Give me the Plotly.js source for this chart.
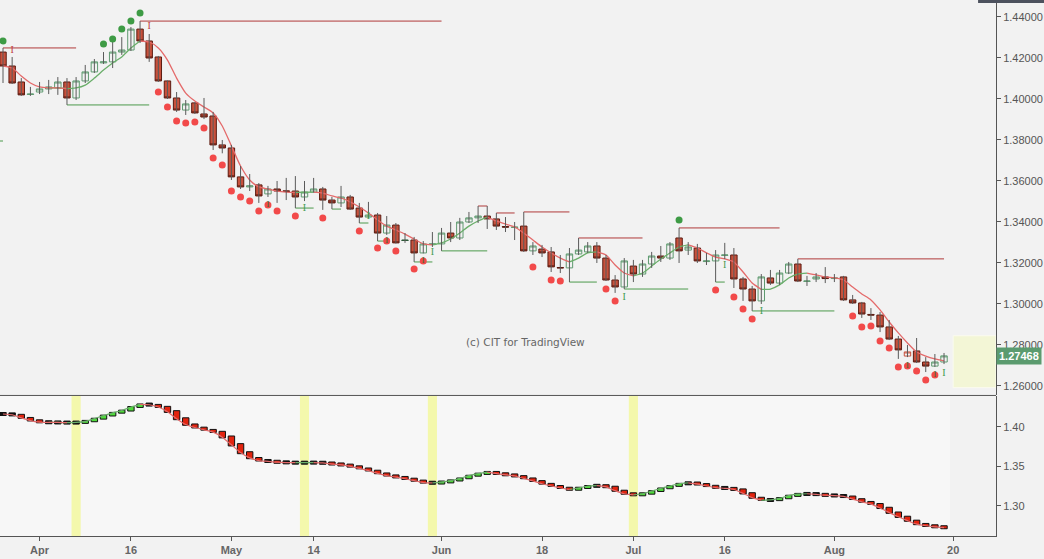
<!DOCTYPE html>
<html><head><meta charset="utf-8">
<script src="https://cdn.plot.ly/plotly-3.0.1.min.js"></script>
<style>html,body{margin:0;padding:0;background:#f2f2f2;}#chart{width:1044px;height:559px;}</style>
</head><body><div id="chart"></div>
<script>
// ---------- DATA ----------
const dates = [
'2018-03-27','2018-03-28','2018-03-29','2018-03-30',
'2018-04-02','2018-04-03','2018-04-04','2018-04-05','2018-04-06',
'2018-04-09','2018-04-10','2018-04-11','2018-04-12','2018-04-13',
'2018-04-16','2018-04-17','2018-04-18','2018-04-19','2018-04-20',
'2018-04-23','2018-04-24','2018-04-25','2018-04-26','2018-04-27',
'2018-04-30','2018-05-01','2018-05-02','2018-05-03','2018-05-04',
'2018-05-07','2018-05-08','2018-05-09','2018-05-10','2018-05-11',
'2018-05-14','2018-05-15','2018-05-16','2018-05-17','2018-05-18',
'2018-05-21','2018-05-22','2018-05-23','2018-05-24','2018-05-25',
'2018-05-28','2018-05-29','2018-05-30','2018-05-31','2018-06-01',
'2018-06-04','2018-06-05','2018-06-06','2018-06-07','2018-06-08',
'2018-06-11','2018-06-12','2018-06-13','2018-06-14','2018-06-15',
'2018-06-18','2018-06-19','2018-06-20','2018-06-21','2018-06-22',
'2018-06-25','2018-06-26','2018-06-27','2018-06-28','2018-06-29',
'2018-07-02','2018-07-03','2018-07-04','2018-07-05','2018-07-06',
'2018-07-09','2018-07-10','2018-07-11','2018-07-12','2018-07-13',
'2018-07-16','2018-07-17','2018-07-18','2018-07-19','2018-07-20',
'2018-07-23','2018-07-24','2018-07-25','2018-07-26','2018-07-27',
'2018-07-30','2018-07-31','2018-08-01','2018-08-02','2018-08-03',
'2018-08-06','2018-08-07','2018-08-08','2018-08-09','2018-08-10',
'2018-08-13','2018-08-14','2018-08-15','2018-08-16','2018-08-17'];

const openPrices = [
1.4229,1.4161,1.4083,1.4022,
1.4034,1.4049,1.4054,1.4083,1.4005,
1.4088,1.4132,1.4176,1.4181,1.4229,
1.4239,1.4341,1.4283,1.4205,1.4088,
1.4005,1.3946,1.3981,1.3927,1.3917,
1.3776,1.3761,1.3620,1.3571,1.3581,
1.3537,1.3561,1.3552,1.3551,1.3522,
1.3546,1.3561,1.3507,1.3493,1.3522,
1.3468,1.3424,1.3434,1.3346,1.3385,
1.3312,1.3312,1.3249,1.3290,1.3293,
1.3346,1.3322,1.3400,1.3420,1.3429,
1.3415,1.3378,1.3373,1.3380,1.3259,
1.3268,1.3254,1.3178,1.3176,1.3244,
1.3254,1.3283,1.3224,1.3117,1.3083,
1.3185,1.3146,1.3195,1.3234,1.3224,
1.3322,1.3263,1.3273,1.3207,1.3210,
1.3237,1.3239,1.3122,1.3073,1.3015,
1.3127,1.3102,1.3151,1.3195,1.3110,
1.3122,1.3132,1.3124,1.3132,1.3020,
1.3005,1.2949,1.2946,1.2888,1.2829,
1.2746,1.2771,1.2717,1.2697,1.2717];

const highPrices = [
1.4249,1.4205,1.4102,1.4059,
1.4083,1.4093,1.4107,1.4102,1.4107,
1.4166,1.4195,1.4229,1.4302,1.4302,
1.4351,1.4380,1.4317,1.4210,1.4090,
1.4034,1.3995,1.3983,1.4005,1.3937,
1.3800,1.3776,1.3673,1.3634,1.3590,
1.3576,1.3600,1.3615,1.3624,1.3600,
1.3615,1.3571,1.3522,1.3576,1.3532,
1.3493,1.3498,1.3444,1.3429,1.3395,
1.3346,1.3327,1.3307,1.3351,1.3371,
1.3400,1.3420,1.3449,1.3478,1.3478,
1.3444,1.3424,1.3400,1.3449,1.3302,
1.3288,1.3278,1.3239,1.3273,1.3322,
1.3302,1.3302,1.3239,1.3141,1.3224,
1.3215,1.3215,1.3254,1.3283,1.3302,
1.3371,1.3302,1.3293,1.3249,1.3263,
1.3298,1.3273,1.3132,1.3088,1.3146,
1.3166,1.3166,1.3205,1.3220,1.3137,
1.3151,1.3180,1.3146,1.3137,1.3044,
1.3010,1.2980,1.2961,1.2922,1.2844,
1.2800,1.2834,1.2741,1.2756,1.2761];

const lowPrices = [
1.4078,1.4073,1.4015,1.4015,
1.4024,1.4024,1.4020,1.3971,1.3995,
1.4078,1.4127,1.4171,1.4151,1.4215,
1.4234,1.4273,1.4181,1.4083,1.4000,
1.3937,1.3922,1.3927,1.3902,1.3751,
1.3735,1.3605,1.3561,1.3551,1.3493,
1.3522,1.3493,1.3507,1.3468,1.3502,
1.3544,1.3459,1.3463,1.3473,1.3459,
1.3395,1.3419,1.3307,1.3337,1.3295,
1.3298,1.3205,1.3247,1.3278,1.3259,
1.3302,1.3312,1.3395,1.3395,1.3366,
1.3361,1.3351,1.3312,1.3254,1.3239,
1.3229,1.3156,1.3151,1.3107,1.3239,
1.3249,1.3200,1.3112,1.3054,1.3073,
1.3107,1.3132,1.3176,1.3205,1.3215,
1.3200,1.3239,1.3200,1.3190,1.3107,
1.3219,1.3078,1.3015,1.2966,1.3000,
1.3093,1.3093,1.3146,1.3107,1.3088,
1.3107,1.3102,1.3107,1.3015,1.3000,
1.2932,1.2922,1.2863,1.2824,1.2732,
1.2741,1.2712,1.2668,1.2693,1.2707];

const closePrices = [
1.4161,1.4078,1.4020,1.4024,
1.4049,1.4059,1.4083,1.4005,1.4088,
1.4132,1.4181,1.4181,1.4229,1.4239,
1.4341,1.4283,1.4200,1.4088,1.4005,
1.3946,1.3976,1.3932,1.3912,1.3776,
1.3761,1.3620,1.3571,1.3576,1.3527,
1.3561,1.3551,1.3549,1.3522,1.3546,
1.3561,1.3507,1.3493,1.3522,1.3463,
1.3424,1.3434,1.3346,1.3385,1.3298,
1.3310,1.3249,1.3293,1.3293,1.3346,
1.3322,1.3400,1.3420,1.3429,1.3415,
1.3380,1.3375,1.3375,1.3259,1.3283,
1.3249,1.3181,1.3176,1.3244,1.3263,
1.3283,1.3224,1.3117,1.3083,1.3210,
1.3146,1.3195,1.3234,1.3224,1.3293,
1.3259,1.3278,1.3210,1.3210,1.3239,
1.3239,1.3122,1.3073,1.3015,1.3132,
1.3102,1.3151,1.3195,1.3112,1.3112,
1.3132,1.3124,1.3127,1.3020,1.3005,
1.2951,1.2946,1.2888,1.2829,1.2776,
1.2766,1.2717,1.2697,1.2717,1.27468];

const maValues = [
1.4161,1.4151,1.4112,1.4078,
1.4059,1.4054,1.4054,1.4051,1.4054,
1.4068,1.4102,1.4141,1.4176,1.4205,
1.4249,1.4283,1.4278,1.4249,1.4190,
1.4102,1.4029,1.3990,1.3961,1.3932,
1.3868,1.3771,1.3673,1.3605,1.3571,
1.3561,1.3551,1.3546,1.3544,1.3545,
1.3546,1.3541,1.3527,1.3517,1.3498,
1.3473,1.3444,1.3410,1.3380,1.3361,
1.3341,1.3317,1.3293,1.3288,1.3298,
1.3317,1.3346,1.3380,1.3405,1.3424,
1.3405,1.3390,1.3376,1.3346,1.3312,
1.3278,1.3249,1.3224,1.3205,1.3224,
1.3249,1.3254,1.3239,1.3190,1.3151,
1.3137,1.3151,1.3185,1.3219,1.3249,
1.3278,1.3288,1.3273,1.3249,1.3229,
1.3220,1.3205,1.3156,1.3102,1.3071,
1.3073,1.3093,1.3127,1.3146,1.3151,
1.3142,1.3132,1.3127,1.3117,1.3083,
1.3049,1.3020,1.2971,1.2912,1.2859,
1.2810,1.2766,1.2746,1.2732,1.2722];

const tickDates  = ['2018-04-02','2018-04-16','2018-05-01','2018-05-14','2018-06-01','2018-06-18','2018-07-02','2018-07-16','2018-08-01','2018-08-20'];
const tickLabels = ['Apr','16','May','14','Jun','18','Jul','16','Aug','20'];

const upperDotDates  = ['2018-03-27','2018-04-11','2018-04-12','2018-04-13','2018-04-16','2018-04-17','2018-07-09'];
const upperDotValues = [1.4283,1.4268,1.4293,1.4341,1.4380,1.4420,1.3410];

const lowerDotDates = ['2018-04-19','2018-04-20','2018-04-23','2018-04-24','2018-04-25','2018-04-26','2018-04-27','2018-04-30',
 '2018-05-01','2018-05-02','2018-05-03','2018-05-04','2018-05-07','2018-05-08','2018-05-10','2018-05-15','2018-05-21',
 '2018-05-23','2018-05-24','2018-05-25','2018-05-29','2018-05-30','2018-06-15','2018-06-19','2018-06-20','2018-06-27',
 '2018-06-28','2018-07-13','2018-07-17','2018-07-18','2018-07-19','2018-08-03','2018-08-06','2018-08-07','2018-08-08',
 '2018-08-09','2018-08-10','2018-08-13','2018-08-14','2018-08-15','2018-08-16'];
const lowerDotValues = [1.4034,1.3961,1.3893,1.3883,1.3888,1.3859,1.3712,1.3678,
 1.3551,1.3522,1.3502,1.3454,1.3483,1.3454,1.3429,1.3419,1.3356,
 1.3273,1.3307,1.3259,1.3171,1.3210,1.3181,1.3117,1.3112,1.3073,
 1.3015,1.3068,1.3034,1.2976,1.2927,1.2941,1.2888,1.2893,1.2820,
 1.2785,1.2693,1.2698,1.2673,1.2629,1.2654];
const markedDotDates = ['2018-05-07','2018-05-24','2018-05-30','2018-08-13','2018-08-16'];

const resistanceStart = ['2018-03-27','2018-04-17','2018-06-07','2018-06-11','2018-06-14','2018-06-22','2018-07-09','2018-07-26'];
const resistanceEnd   = ['2018-04-06','2018-06-01','2018-06-08','2018-06-13','2018-06-21','2018-07-03','2018-07-24','2018-08-17'];
const resistanceLevel = [1.4249,1.4380,1.3478,1.3444,1.3449,1.3322,1.3371,1.3220];

const supportStart = ['2018-03-26','2018-04-05','2018-05-10','2018-05-16','2018-05-21','2018-05-23','2018-05-29','2018-06-01','2018-06-21','2018-06-29','2018-07-13','2018-07-19'];
const supportEnd   = ['2018-03-27','2018-04-18','2018-05-14','2018-05-17','2018-05-22','2018-05-24','2018-05-31','2018-06-08','2018-06-26','2018-07-10','2018-07-16','2018-08-01'];
const supportLevel = [1.3795,1.3971,1.3468,1.3463,1.3395,1.3307,1.3205,1.3259,1.3107,1.3073,1.3107,1.2966];

const arrowUpDates  = ['2018-05-11','2018-05-22','2018-05-31','2018-06-29','2018-07-16','2018-07-20','2018-08-17'];
const arrowUpValues = [1.3468,1.3429,1.3249,1.3034,1.3190,1.2961,1.2663];
const arrowDownDates  = ['2018-03-28','2018-04-18'];
const arrowDownValues = [1.4239,1.4356];

const highlightDates = ['2018-04-06','2018-05-11','2018-05-31','2018-07-02'];
const projectionBox = [1.2592, 1.2845];
const lastPrice = 1.27468;

// ---------- HELPERS ----------
function tIdx(d){
  const i = dates.indexOf(d); if(i >= 0) return i;
  const ref = d > dates[dates.length-1] ? dates.length-1 : 0;
  const a = new Date(dates[ref]+'T00:00:00Z'), b = new Date(d+'T00:00:00Z');
  const step = b > a ? 1 : -1; let n = ref;
  while(a.getTime() !== b.getTime()){
    a.setUTCDate(a.getUTCDate()+step);
    const w = a.getUTCDay(); if(w !== 0 && w !== 6) n += step;
  }
  return n;
}
const xIdx = dates.map((d,i)=>i);
const X_MIN = -0.33, X_MAX = 108.69;

function splitDir(vals){
  const up = vals.map(()=>null), dn = vals.map(()=>null);
  for(let i=1;i<vals.length;i++){
    if(vals[i] >= vals[i-1]){ up[i-1]=vals[i-1]; up[i]=vals[i]; }
    else { dn[i-1]=vals[i-1]; dn[i]=vals[i]; }
  }
  return [up, dn];
}
const [maUp, maDn] = splitDir(maValues);

function segTrace(starts, ends, levels, color, yaxis){
  const xs=[], ys=[];
  starts.forEach((s,k)=>{ xs.push(tIdx(s), tIdx(ends[k]), null); ys.push(levels[k], levels[k], null); });
  return {type:'scatter', mode:'lines', x:xs, y:ys, yaxis:yaxis||'y', line:{color:color, width:1}, hoverinfo:'skip'};
}

// wicks
const wx=[], wy=[];
xIdx.forEach(i=>{ wx.push(i,i,null); wy.push(lowPrices[i], highPrices[i], null); });

// candle classes (hollow-candle style)
const groups = {upUp:[], dnDn:[], upDn:[], dnUp:[]};
xIdx.forEach(i=>{
  const prev = i>0 ? closePrices[i-1] : openPrices[i];
  const up = closePrices[i] >= openPrices[i];
  const hi = closePrices[i] >= prev;
  groups[(up?'up':'dn') + (hi?'Up':'Dn')].push(i);
});
const groupStyle = {
  upUp:{fill:'#f2f2f2', line:'#5f9a70'},
  dnDn:{fill:'#c8513c', line:'#5c1c12'},
  upDn:{fill:'#f2f2f2', line:'#c8513c'},
  dnUp:{fill:'#2f6b45', line:'#2f5a3a'}
};
function candleTrace(key){
  const ids = groups[key], st = groupStyle[key];
  const o = ids.map(i=>openPrices[i]), c = ids.map(i=>closePrices[i]);
  const side = {line:{color:st.line, width:1}, fillcolor:st.fill};
  return {type:'candlestick', x:ids, open:o, close:c,
    high:ids.map((i,k)=>Math.max(o[k],c[k])), low:ids.map((i,k)=>Math.min(o[k],c[k])),
    increasing:side, decreasing:side, whiskerwidth:0, hoverinfo:'skip', xaxis:'x', yaxis:'y'};
}

// bottom boxes
const boxBase=[], boxH=[], boxCol=[];
const MIN_H = 0.0038, BOX_SCALE = 1.3;
maValues.forEach((v,i)=>{
  const p = i>0 ? maValues[i-1] : v;
  const d = v - p, h = Math.abs(d);
  const hh = Math.max(h*BOX_SCALE, MIN_H);
  boxBase.push((v+p)/2 - hh/2); boxH.push(hh);
  boxCol.push(d > 0.0010 ? '#4fdc3a' : (d < -0.0010 ? '#e2240f' : '#111111'));
});

const markedVals = markedDotDates.map(d=>lowerDotValues[lowerDotDates.indexOf(d)]);

// ---------- TRACES ----------
const traces = [
  {type:'scatter', mode:'lines', x:xIdx, y:maUp, line:{color:'#6aae6a', width:1.3, shape:'spline', smoothing:0.6}, connectgaps:false, hoverinfo:'skip'},
  {type:'scatter', mode:'lines', x:xIdx, y:maDn, line:{color:'#e46a6a', width:1.3, shape:'spline', smoothing:0.6}, connectgaps:false, hoverinfo:'skip'},
  segTrace(resistanceStart, resistanceEnd, resistanceLevel, '#b03a3a'),
  segTrace(supportStart, supportEnd, supportLevel, '#4c9a4c'),
  {type:'scatter', mode:'lines', x:wx, y:wy, line:{color:'#5a5a5a', width:1}, hoverinfo:'skip'},
  candleTrace('upUp'), candleTrace('dnDn'), candleTrace('upDn'), candleTrace('dnUp'),
  {type:'scatter', mode:'markers', x:upperDotDates.map(tIdx), y:upperDotValues, marker:{color:'#3e9b45', size:7}, hoverinfo:'skip'},
  {type:'scatter', mode:'markers', x:lowerDotDates.map(tIdx), y:lowerDotValues, marker:{color:'#f24a4a', size:7}, hoverinfo:'skip'},
  {type:'scatter', mode:'text', x:markedDotDates.map(tIdx), y:markedVals, text:markedDotDates.map(()=>'I'), textfont:{family:'Liberation Serif', size:9, color:'#3f6a2f'}, hoverinfo:'skip'},
  {type:'scatter', mode:'text', x:arrowUpDates.map(tIdx), y:arrowUpValues, text:arrowUpDates.map(()=>'I'), textfont:{family:'Liberation Serif', size:10, color:'#3f9a4f'}, hoverinfo:'skip'},
  {type:'scatter', mode:'text', x:arrowDownDates.map(tIdx), y:arrowDownValues, text:arrowDownDates.map(()=>'I'), textfont:{family:'Liberation Serif', size:10, color:'#c04040'}, hoverinfo:'skip'},
  // bottom panel
  {type:'scatter', mode:'lines', x:xIdx, y:maUp, yaxis:'y2', line:{color:'#6aae6a', width:1.2, shape:'spline', smoothing:0.6}, hoverinfo:'skip'},
  {type:'scatter', mode:'lines', x:xIdx, y:maDn, yaxis:'y2', line:{color:'#e46a6a', width:1.2, shape:'spline', smoothing:0.6}, hoverinfo:'skip'},
  {type:'bar', x:xIdx, y:boxH, base:boxBase, yaxis:'y2', width:0.7, marker:{color:boxCol, line:{color:'#111', width:1}}, hoverinfo:'skip'}
];

// ---------- LAYOUT ----------
const axisFont = {family:'Liberation Sans, Arial, sans-serif', size:11, color:'#555'};
const shapes = [
  {type:'rect', layer:'below', xref:'x', yref:'y2 domain', x0:X_MIN, x1:dates.length-1+0.65, y0:0, y1:1, fillcolor:'#f7f7f7', line:{width:0}},
  ...highlightDates.map(d=>({type:'rect', layer:'below', xref:'x', yref:'y2 domain', x0:tIdx(d)-0.5, x1:tIdx(d)+0.5, y0:0, y1:1, fillcolor:'#f4f8ac', line:{width:0}})),
  {type:'rect', layer:'below', xref:'x', yref:'y', x0:dates.length, x1:X_MAX, y0:projectionBox[0], y1:projectionBox[1], fillcolor:'#f3f6d6', line:{color:'#fbfbef', width:1}},
  {type:'line', xref:'paper', yref:'paper', x0:0, x1:1, y0:0.2622, y1:0.2622, line:{color:'#555', width:1}},
  {type:'rect', xref:'paper', yref:'paper', x0:0.982, x1:1.05, y0:0.9944, y1:1.0, fillcolor:'#4d525e', line:{width:0}}
];

const layout = {
  width:1044, height:559,
  margin:{l:0, r:48, t:0, b:23, pad:0},
  paper_bgcolor:'#f2f2f2', plot_bgcolor:'#f2f2f2',
  showlegend:false, hovermode:false,
  boxgap:0.22, boxgroupgap:0.1,
  xaxis:{type:'linear', range:[X_MIN, X_MAX], anchor:'y2', showgrid:false, zeroline:false,
    showline:true, linecolor:'#555', linewidth:1, ticks:'outside', ticklen:4, tickcolor:'#555',
    tickvals:tickDates.map(tIdx), ticktext:tickLabels,
    tickfont:{family:'Liberation Sans, Arial, sans-serif', size:11, color:'#666', weight:'bold'},
    rangeslider:{visible:false}, fixedrange:true},
  yaxis:{domain:[0.2631,1], side:'right', anchor:'x', range:[1.25561,1.44829], tick0:1.26, dtick:0.02,
    tickformat:'.5f', showgrid:false, zeroline:false, showline:true, linecolor:'#555', linewidth:1,
    ticks:'outside', ticklen:4, tickcolor:'#555', tickfont:axisFont, fixedrange:true},
  yaxis2:{domain:[0,0.2612], side:'right', anchor:'x', range:[1.2616,1.4389], tick0:1.30, dtick:0.05,
    tickformat:'.2f', showgrid:false, zeroline:false, showline:true, linecolor:'#555', linewidth:1,
    ticks:'outside', ticklen:4, tickcolor:'#555', tickfont:axisFont, fixedrange:true},
  shapes:shapes,
  annotations:[
    {xref:'paper', yref:'paper', x:525/996, y:(536-342)/536, text:'(c) CIT for TradingView', showarrow:false,
     font:{family:'DejaVu Sans, sans-serif', size:10.5, color:'#666'}},
    {xref:'paper', yref:'y', x:1, y:lastPrice, xanchor:'left', yanchor:'middle', text:lastPrice.toFixed(5), showarrow:false,
     bgcolor:'#5b9b6f', borderpad:2, font:{family:'Liberation Sans, Arial, sans-serif', size:11, color:'#ffffff', weight:'bold'}}
  ]
};

Plotly.newPlot('chart', traces, layout, {displayModeBar:false, staticPlot:true});
</script>
</body></html>
